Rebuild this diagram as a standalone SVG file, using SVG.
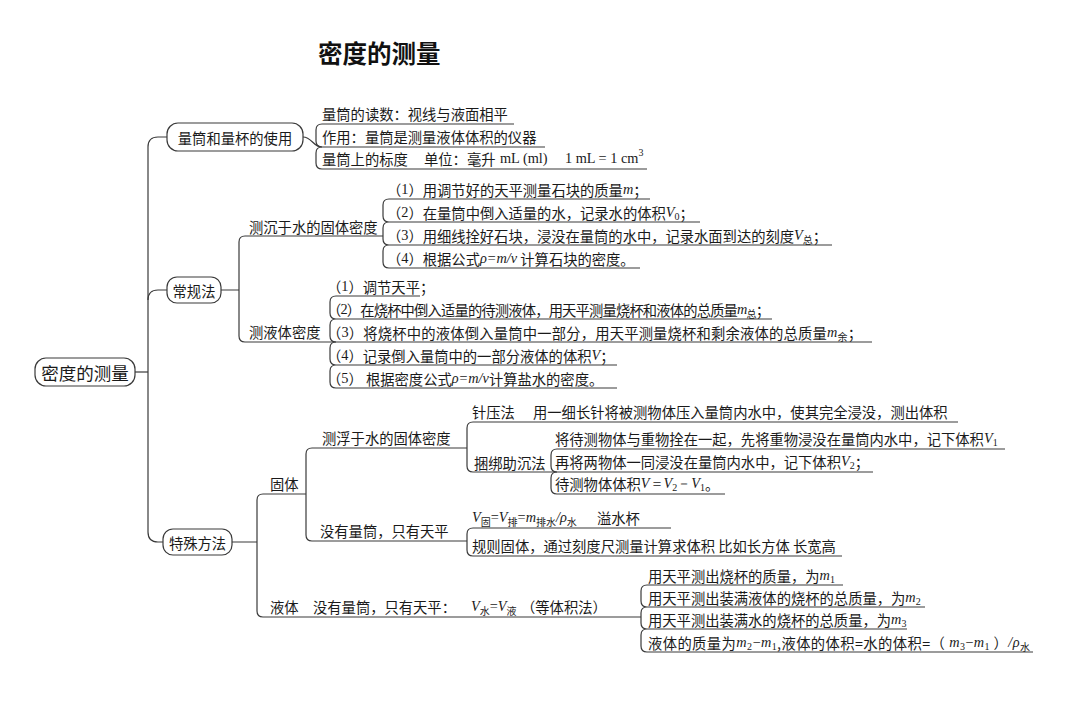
<svg xmlns="http://www.w3.org/2000/svg" width="1080" height="708" viewBox="0 0 1080 708">
<style>
.c{fill:none;stroke:#3a3a3a;stroke-width:1.2}
.n{fill:#fff;stroke:#3a3a3a;stroke-width:1.2}
.t{font-family:"Noto Sans CJK SC","Liberation Serif",sans-serif;font-size:14.3px;fill:#1a1a1a;dominant-baseline:central}
.l{font-family:"Liberation Serif",serif}
.i{font-family:"Liberation Serif",serif;font-style:italic}
.s{font-size:10px}
.ti{font-family:"Noto Sans CJK SC",sans-serif;font-size:24.5px;font-weight:bold;fill:#111}
.r{font-size:17.5px}
</style>
<rect width="1080" height="708" fill="#fff"/>
<text class="ti" x="318" y="63">密度的测量</text>

<g id="connectors">
<path class="c" d="M135 372 H148"/>
<path class="c" d="M167 137 H158 Q148 137 148 147 V532 Q148 542 158 542 H163"/>
<path class="c" d="M148 300 Q148 290 158 290 H167"/>
<path class="c" d="M303 137 C312 137 313 147 322 147"/>
<path class="c" d="M322 124 Q316 124 316 130 V141 Q316 147 322 147 Q316 147 316 153 V163 Q316 169 322 169 M322 124 H514 M322 147 H545 M322 169 H647"/>
<path class="c" d="M221 290 H239 M239 290 V242 Q239 236 245 236 H383 M239 290 V336 Q239 342 245 342 H336"/>
<path class="c" d="M389 199 Q383 199 383 205 V216 Q383 222 389 222 Q383 222 383 228 V239 Q383 245 389 245 Q383 245 383 251 V262 Q383 268 389 268 M389 199 H650 M389 222 H700 M389 245 H832 M389 268 H640"/>
<path class="c" d="M336 296 Q330 296 330 302 V313 Q330 319 336 319 Q330 319 330 325 V336 Q330 342 336 342 Q330 342 330 348 V359 Q330 365 336 365 Q330 365 330 371 V382 Q330 388 336 388 M336 296 H420 M336 319 H772 M336 342 H872 M336 365 H617 M336 388 H617"/>
<path class="c" d="M232 542 H257 M257 542 V500 Q257 494 263 494 H306 M257 542 V611 Q257 617 263 617 H641"/>
<path class="c" d="M306 494 V454 Q306 448 312 448 H467 M306 494 V535 Q306 541 312 541 H467"/>
<path class="c" d="M473 422 Q467 422 467 428 V466 Q467 472 473 472 M473 422 H958 M473 472 H557"/>
<path class="c" d="M557 449 Q551 449 551 455 V466 Q551 472 557 472 Q551 472 551 478 V488 Q551 494 557 494 M557 449 H1005 M557 472 H873 M557 494 H725"/>
<path class="c" d="M473 528 Q467 528 467 534 V550 Q467 556 473 556 M473 528 H671 M473 556 H842"/>
<path class="c" d="M647 585 Q641 585 641 591 V601 Q641 607 647 607 Q641 607 641 613 V623 Q641 629 647 629 Q641 629 641 635 V646 Q641 652 647 652 M647 585 H843 M647 607 H925 M647 629 H907 M647 652 H1033"/>
</g>

<g id="root">
<rect class="n" x="35" y="358" width="100" height="28" rx="11"/>
<text class="t r" x="85" y="372" text-anchor="middle">密度的测量</text>
</g>

<g id="n-use">
<rect class="n" x="167" y="123" width="136" height="28" rx="11"/>
<text class="t" x="235" y="137" text-anchor="middle">量筒和量杯的使用</text>
</g>
<g id="n-use-leaves">
<text class="t" x="322" y="113">量筒的读数：视线与液面相平</text>
<text class="t" x="322" y="136">作用：量筒是测量液体体积的仪器</text>
<text class="t" x="322" y="158">量筒上的标度<tspan x="424">单位：毫升</tspan><tspan class="l" x="500">mL (ml)</tspan><tspan class="l" x="565">1 mL = 1 cm</tspan><tspan class="l s" dy="-6">3</tspan></text>
</g>

<g id="n-normal">
<rect class="n" x="167" y="277" width="54" height="26" rx="10"/>
<text class="t" x="194" y="290" text-anchor="middle">常规法</text>
</g>
<g id="n-sink">
<text class="t" x="249" y="226">测沉于水的固体密度</text>
<text class="t" x="387" y="189">（<tspan class="l">1</tspan>）用调节好的天平测量石块的质量<tspan class="i">m</tspan>；</text>
<text class="t" x="387" y="212">（<tspan class="l">2</tspan>）在量筒中倒入适量的水，记录水的体积<tspan class="i">V</tspan><tspan class="l s" dy="4">0</tspan><tspan dy="-4">；</tspan></text>
<text class="t" x="387" y="235" textLength="440" lengthAdjust="spacing">（<tspan class="l">3</tspan>）用细线拴好石块，浸没在量筒的水中，记录水面到达的刻度<tspan class="i">V</tspan><tspan class="s" dy="4">总</tspan><tspan dy="-4">；</tspan></text>
<text class="t" x="387" y="258">（<tspan class="l">4</tspan>）根据公式<tspan class="i">ρ=m/v</tspan> 计算石块的密度。</text>
</g>
<g id="n-liquid">
<text class="t" x="249" y="331">测液体密度</text>
<text class="t" x="327" y="286">（<tspan class="l">1</tspan>）调节天平；</text>
<text class="t" x="327" y="309" textLength="443" lengthAdjust="spacing">（<tspan class="l">2</tspan>）在烧杯中倒入适量的待测液体，用天平测量烧杯和液体的总质量<tspan class="i">m</tspan><tspan class="s" dy="4">总</tspan><tspan dy="-4">；</tspan></text>
<text class="t" x="327" y="332" textLength="535" lengthAdjust="spacing">（<tspan class="l">3</tspan>）将烧杯中的液体倒入量筒中一部分，用天平测量烧杯和剩余液体的总质量<tspan class="i">m</tspan><tspan class="s" dy="4">余</tspan><tspan dy="-4">；</tspan></text>
<text class="t" x="327" y="355">（<tspan class="l">4</tspan>）记录倒入量筒中的一部分液体的体积<tspan class="i">V</tspan>；</text>
<text class="t" x="327" y="378">（<tspan class="l">5</tspan>） 根据密度公式<tspan class="i">ρ=m/v</tspan>计算盐水的密度。</text>
</g>

<g id="n-special">
<rect class="n" x="163" y="529" width="69" height="26" rx="10"/>
<text class="t" x="197.5" y="542" text-anchor="middle">特殊方法</text>
</g>
<g id="n-solid">
<text class="t" x="270" y="483">固体</text>
</g>
<g id="n-float">
<text class="t" x="322" y="437">测浮于水的固体密度</text>
<text class="t" x="472" y="411">针压法<tspan x="533">用一细长针将被测物体压入量筒内水中，使其完全浸没，测出体积</tspan></text>
<text class="t" x="474" y="462">捆绑助沉法</text>
<text class="t" x="555" y="438">将待测物体与重物拴在一起，先将重物浸没在量筒内水中，记下体积<tspan class="i">V</tspan><tspan class="l s" dy="4">1</tspan></text>
<text class="t" x="555" y="461">再将两物体一同浸没在量筒内水中，记下体积<tspan class="i">V</tspan><tspan class="l s" dy="4">2</tspan><tspan dy="-4">；</tspan></text>
<text class="t" x="555" y="483">待测物体体积<tspan class="i">V</tspan><tspan class="l">＝</tspan><tspan class="i">V</tspan><tspan class="l s" dy="4">2</tspan><tspan class="l" dy="-4">－</tspan><tspan class="i">V</tspan><tspan class="l s" dy="4">1</tspan><tspan dy="-4">。</tspan></text>
</g>
<g id="n-noscale">
<text class="t" x="320" y="530">没有量筒，只有天平</text>
<text class="t" x="472" y="517"><tspan class="i">V</tspan><tspan class="s" dy="4">固</tspan><tspan class="l" dy="-4">=</tspan><tspan class="i">V</tspan><tspan class="s" dy="4">排</tspan><tspan class="l" dy="-4">=</tspan><tspan class="i">m</tspan><tspan class="s" dy="4">排水</tspan><tspan class="i" dy="-4">/ρ</tspan><tspan class="s" dy="4">水</tspan><tspan x="597" dy="-4">溢水杯</tspan></text>
<text class="t" x="472" y="545">规则固体，通过刻度尺测量计算求体积 比如长方体 长宽高</text>
</g>
<g id="n-liq2">
<text class="t" x="270" y="606">液体<tspan x="313">没有量筒，只有天平：</tspan><tspan x="471" class="i">V</tspan><tspan class="s" dy="4">水</tspan><tspan class="l" dy="-4">=</tspan><tspan class="i">V</tspan><tspan class="s" dy="4">液</tspan><tspan x="521" dy="-4">（等体积法）</tspan></text>
<text class="t" x="648" y="575">用天平测出烧杯的质量，为<tspan class="i">m</tspan><tspan class="l s" dy="4">1</tspan></text>
<text class="t" x="648" y="597">用天平测出装满液体的烧杯的总质量，为<tspan class="i">m</tspan><tspan class="l s" dy="4">2</tspan></text>
<text class="t" x="648" y="619">用天平测出装满水的烧杯的总质量，为<tspan class="i">m</tspan><tspan class="l s" dy="4">3</tspan></text>
<text class="t" x="648" y="642" textLength="382" lengthAdjust="spacing">液体的质量为<tspan class="i">m</tspan><tspan class="l s" dy="4">2</tspan><tspan class="l" dy="-4">−</tspan><tspan class="i">m</tspan><tspan class="l s" dy="4">1</tspan><tspan dy="-4">,液体的体积=水的体积=（</tspan><tspan class="i"> m</tspan><tspan class="l s" dy="4">3</tspan><tspan class="l" dy="-4">−</tspan><tspan class="i">m</tspan><tspan class="l s" dy="4">1</tspan><tspan dy="-4"> ）</tspan><tspan class="i">/ρ</tspan><tspan class="s" dy="4">水</tspan></text>
</g>
</svg>
